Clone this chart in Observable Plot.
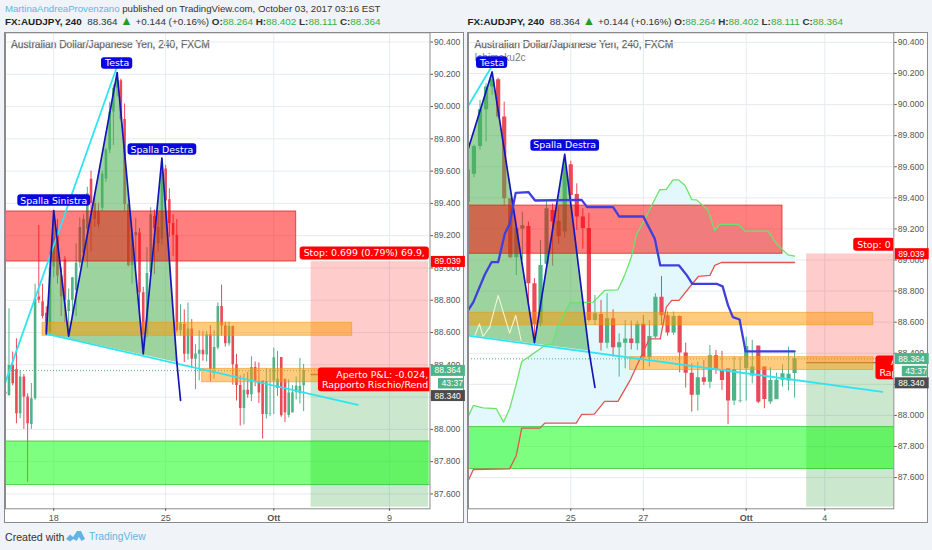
<!DOCTYPE html>
<html><head><meta charset="utf-8">
<script src="https://cdn.jsdelivr.net/npm/d3@7"></script>
<script src="https://cdn.jsdelivr.net/npm/@observablehq/plot@0.6"></script>
<style>
html,body{margin:0;padding:0;background:#f0f3f7;width:932px;height:550px;overflow:hidden;font-family:"Liberation Sans",sans-serif}
.abs{position:absolute;white-space:nowrap}
.panel{position:absolute;background:#fff;border:1.3px solid #8b8b8b;box-sizing:border-box}
.chart{position:absolute;top:0}
.g{color:#2fb344}
.tri{color:#1e9c2c;font-size:12.5px;line-height:10px}
.ttl{font-size:10.2px;color:#666;line-height:16px;-webkit-text-stroke:0.25px #666}
</style></head><body>
<div class="abs" style="left:5px;top:1px;font-size:9.65px;color:#333;line-height:16px"><span style="color:#62b4e6">MartinaAndreaProvenzano</span> published on TradingView.com, October 03, 2017 03:16 EST</div>
<div class="abs head" style="left:5px;top:14px;font-size:9.9px;color:#333;line-height:16px"><b style="color:#222">FX:AUDJPY, 240</b>&nbsp; 88.364 <span class="tri">▲</span> +0.144 (+0.16%) <b>O:</b><span class="g">88.264</span> <b>H:</b><span class="g">88.402</span> <b>L:</b><span class="g">88.111</span> <b>C:</b><span class="g">88.364</span></div>
<div class="abs head" style="left:467.5px;top:14px;font-size:9.9px;color:#333;line-height:16px"><b style="color:#222">FX:AUDJPY, 240</b>&nbsp; 88.364 <span class="tri">▲</span> +0.144 (+0.16%) <b>O:</b><span class="g">88.264</span> <b>H:</b><span class="g">88.402</span> <b>L:</b><span class="g">88.111</span> <b>C:</b><span class="g">88.364</span></div>
<div class="panel" style="left:4px;top:32px;width:460px;height:491px"></div>
<div class="panel" style="left:467px;top:32px;width:461px;height:491px"></div>
<div class="abs ttl" style="left:11px;top:37px">Australian Dollar/Japanese Yen, 240, FXCM</div>
<div class="abs ttl" style="left:474.5px;top:37px">Australian Dollar/Japanese Yen, 240, FXCM</div>
<div class="abs" style="left:474.5px;top:50px;font-size:10.1px;color:#7a7a7a;line-height:16px">Ichimoku2c</div>
<div id="left" class="chart" style="left:0"></div>
<div id="right" class="chart" style="left:466px"></div>
<div class="abs" style="left:5px;top:529px;font-size:10.6px;color:#333;line-height:16px">Created with</div>
<svg class="abs" style="left:66px;top:530px" width="20" height="13" viewBox="0 0 20 13"><path d="M0 9 L4 4.5 L7 7 L11 1 L15 1 L19 9 L15.5 11 L13 7 L10.5 11 L7.5 9 L4 11.5Z" fill="#62b4e6"/></svg>
<div class="abs" style="left:89px;top:529px;font-size:10.3px;color:#62b4e6;line-height:16px">TradingView</div>
<script>
// bars are numbered from the first session of October (tick "Ott" = 0)
const firstBar = -72;
const opens  = [88.23,88.21,88.396,88.371,88.097,88.324,88.2,88.03,88.19,88.82,88.79,88.72,88.6,89.005,89.2,88.95,89.05,88.73,88.8,88.86,89.03,89.09,89.24,89.55,89.4,89.35,89.37,
 89.551,89.731,89.967,90.113,90.16,89.92,89.394,89.014,89.20,89.216,88.847,88.59,88.972,89.319,89.25,89.18,89.613,89.422,89.276,89.203,88.611,88.650,88.465,88.622,88.435,88.465,88.491,88.461,88.586,88.371,88.504,88.761,88.641,88.530,88.637,88.401,88.272,88.129,88.242,88.214,88.384,88.296,88.300,88.092,88.092,88.300,88.253,88.446,88.311,88.086,88.101,88.227,88.221,88.27,88.264];
const highs  = [88.28,88.747,88.479,88.561,88.365,88.34,88.22,88.284,88.90,89.263,88.90,88.76,89.1,89.356,89.3,89.0,89.07,88.87,88.94,89.15,89.31,89.33,89.5,89.6,89.45,89.4,89.6,
 89.74,90.027,90.134,90.21,90.17,90.016,89.394,89.212,89.308,89.244,88.88,89.126,89.373,89.36,89.34,89.68,89.636,89.49,89.33,89.30,88.772,88.740,88.783,88.680,88.525,88.611,88.607,88.607,88.643,88.611,88.783,88.894,88.665,88.665,88.640,88.465,88.332,88.343,88.354,88.450,88.418,88.412,88.247,88.375,88.371,88.504,88.483,88.322,88.219,88.307,88.272,88.326,88.440,88.402];
const lows   = [88.21,88.204,88.27,88.035,88.066,88.0,87.673,88.0,88.18,88.78,88.685,88.58,88.58,88.94,88.9,88.7,88.66,88.58,88.7,88.7,89.0,89.05,89.0,89.1,89.25,89.25,89.35,
 89.53,89.709,89.759,90.06,89.909,89.351,89.008,88.90,89.0,88.70,88.47,88.57,88.95,88.96,89.10,89.14,89.38,89.19,89.07,88.60,88.579,88.414,88.429,88.375,88.246,88.300,88.422,88.418,88.294,88.311,88.493,88.579,88.510,88.515,88.274,88.176,88.021,88.028,88.193,88.172,88.264,88.161,87.940,88.064,88.079,88.092,88.204,88.075,88.043,88.071,88.193,88.182,88.157,88.111];
const closes = [88.22,88.396,88.282,88.097,88.324,88.2,88.035,88.19,88.809,88.80,88.70,88.60,89.0,89.19,88.95,88.82,88.8,88.8,88.94,89.03,89.25,89.3,89.46,89.4,89.3,89.27,89.58,
 89.731,89.967,90.113,90.16,89.92,89.394,89.014,89.201,89.22,88.847,88.585,88.965,89.33,89.244,89.15,89.60,89.415,89.276,89.203,88.611,88.654,88.465,88.622,88.435,88.467,88.491,88.463,88.586,88.371,88.508,88.761,88.641,88.530,88.637,88.401,88.272,88.129,88.242,88.214,88.384,88.296,88.225,88.092,88.296,88.096,88.444,88.311,88.084,88.103,88.225,88.227,88.268,88.265,88.364];

const priceTicks = [87.6,87.8,88,88.2,88.4,88.6,88.8,89,89.2,89.4,89.6,89.8,90,90.2,90.4];

// head and shoulders drawing
const hsBars   = [-61,-59,-55,-42,-35,-30,-26];
const hsPrices = [88.592,89.356,88.578,90.21,88.468,89.68,88.417];
const hsTailBars = [-26,-25];
const hsTailPrices = [88.417,88.18];
const riseBars = [-72,-42];
const risePrices = [88.29,90.25];
const neckBars = [-61,22.5];
const neckPrices = [88.592,88.152];

// zones
const redZone = {bars:[-90,6], prices:[89.04,89.35]};
const greenZone = {bars:[-90,60], prices:[87.655,87.925]};
const orangeTop = {bars:[-62,21], prices:[88.58,88.66]};
const orangeLow = {bars:[-19.2,21], prices:[88.292,88.375]};
const positionBars = [10,41.5];
const entryPrice = 88.34, stopPrice = 89.039, lastPrice = 88.364;

// ichimoku (right panel only)
const spanABars = [-46,-45.1,-43.5,-41.3,-40.1,-39.1,-38,-37.1,-36,-33.3,-32,-31.1,-29.1,-25.3,-23.4,-21.2,-20.1,-19,-18.1,-17,-14.3,-13.2,-12.1,-11.2,-10.1,-9,-8.2,-6.3,-5.2,-4.4,-1.3,-0.2,3.6,5,6.9,8];
const spanAPrices = [87.989,88.064,88.049,88.043,87.957,88.043,88.203,88.347,88.375,88.45,88.461,88.579,88.725,88.729,88.804,88.808,88.901,89.018,89.168,89.244,89.452,89.454,89.516,89.516,89.48,89.389,89.387,89.319,89.19,89.229,89.229,89.186,89.186,89.104,89.033,89.025];
const spanBBars = [-46,-45.1,-39.1,-38,-37.1,-34.1,-33.3,-28.1,-27.2,-25.1,-23.4,-21.2,-19.2,-17.3,-16,-14.2,-13.2,-12.3,-11.1,-8.9,-7.9,-6,-5.2,-4.1,8];
const spanBPrices = [87.575,87.652,87.656,87.742,87.918,87.918,87.95,87.95,88.006,88.008,88.09,88.09,88.225,88.386,88.493,88.493,88.697,88.74,88.74,88.847,88.894,88.901,88.965,88.984,88.984];
const baseBars = [-46,-45.1,-43.2,-42.1,-41,-39.9,-39.1,-38.1,-36,-34.9,-27.2,-26.3,-22,-21,-17,-15.1,-14.2,-11.1,-9.8,-8.9,-4.9,-3.9,-3,-2.2,-1.1,-0.1,8];
const basePrices = [88.675,88.729,88.907,88.986,88.986,89.169,89.233,89.432,89.437,89.383,89.387,89.34,89.34,89.28,89.28,89.136,88.965,88.965,88.901,88.847,88.847,88.83,88.708,88.632,88.617,88.412,88.412];
const lagBars = [-44.9,-44.1,-43.5,-42.4,-41,-39.1,-38.1,-37.2];
const lagPrices = [88.508,88.589,88.508,88.568,88.772,88.529,88.643,88.482];

const pts = (xs, ys) => xs.map((x, i) => ({x, y: ys[i]}));
const candles = opens.map((o, i) => ({i: firstBar + i, o, h: highs[i], l: lows[i], c: closes[i]}));
const UP = "#4fb388", DOWN = "#e94a58";
const candleColor = d => d.c >= d.o ? UP : DOWN;
const box = (z, fill, stroke) => Plot.rect([z], {x1: d => d.bars[0], x2: d => d.bars[1], y1: d => d.prices[0], y2: d => d.prices[1], fill, stroke, strokeWidth: 1, clip: true});

function panel(id, cfg) {
  const line = (xs, ys, o) => Plot.line(pts(xs, ys), {x: "x", y: "y", clip: true, ...o});
  const marks = [
    Plot.gridX(cfg.ticks, {stroke: "#e6eaef", strokeOpacity: 1}),
    Plot.gridY(priceTicks, {stroke: "#e6eaef", strokeOpacity: 1})
  ];
  if (cfg.ichimoku) marks.push(
    Plot.line([...pts(spanABars, spanAPrices), ...pts(spanBBars, spanBPrices).reverse()], {x: "x", y: "y", fill: "#e2f8fd", stroke: "none", clip: true})
  );
  marks.push(
    Plot.ruleY([lastPrice], {stroke: "#4fb388", strokeWidth: 1, strokeDasharray: "1,2", clip: true}),
    Plot.ruleX(candles, {x: "i", y1: "l", y2: "h", stroke: candleColor, strokeWidth: 1, clip: true}),
    Plot.ruleX(candles, {x: "i", y1: "o", y2: "c", stroke: candleColor, strokeWidth: cfg.body, clip: true}),
    // head and shoulders fill sits below the zones
    Plot.line(pts(hsBars, hsPrices), {x: "x", y: "y", fill: "rgba(76,175,80,0.55)", stroke: "none", clip: true}),
    // position tool
    Plot.rect([0], {x1: positionBars[0], x2: positionBars[1], y1: entryPrice, y2: stopPrice, fill: "#ff0000", fillOpacity: 0.2, clip: true}),
    Plot.rect([0], {x1: positionBars[0], x2: positionBars[1], y1: cfg.targetLow, y2: entryPrice, fill: "#2e9e38", fillOpacity: 0.25, clip: true}),
    Plot.ruleY([entryPrice], {x1: positionBars[0], x2: positionBars[1], stroke: "#8a7a50", strokeWidth: 1.3, clip: true}),
    // zones
    box(redZone, "rgba(255,0,0,0.5)", "rgba(225,30,30,0.75)"),
    box(greenZone, "rgba(0,255,0,0.5)", "rgba(40,190,40,0.7)"),
    box(orangeTop, "rgba(255,152,0,0.5)", "rgba(240,150,20,0.6)"),
    box(orangeLow, "rgba(255,152,0,0.5)", "rgba(240,150,20,0.6)")
  );
  if (cfg.ichimoku) marks.push(
    line(spanABars, spanAPrices, {stroke: "#6be36b", strokeWidth: 1.3}),
    line(spanBBars, spanBPrices, {stroke: "#e2564f", strokeWidth: 1.3}),
    line(lagBars, lagPrices, {stroke: "#f5f5d8", strokeWidth: 1.1})
  );
  marks.push(
    line(riseBars, risePrices, {stroke: "#2fe4f2", strokeWidth: 1.8}),
    line(neckBars, neckPrices, {stroke: "#2fe4f2", strokeWidth: 1.8}),
    line(hsBars, hsPrices, {stroke: "#1616b8", strokeWidth: 1.7}),
    line(hsTailBars, hsTailPrices, {stroke: "#1616b8", strokeWidth: 1.7})
  );
  if (cfg.ichimoku) marks.push(line(baseBars, basePrices, {stroke: "#3f3fe0", strokeWidth: 2.3}));
  const small = {fontFamily: "DejaVu Sans", fontSize: 9.4, fill: "white", clip: true, lineAnchor: "middle"};
  marks.push(
    Plot.text(cfg.shapes, {x: "x", y: "y", text: "t", className: "pill-blue", ...small}),
    Plot.text([cfg.stopLabel], {x: "x", y: "y", text: "t", textAnchor: "start", className: "pill-red", ...small}),
    Plot.text([cfg.openLabel], {x: "x", y: "y", text: "t", textAnchor: "end", className: "pill-red", lineHeight: 1.15, ...small}),
    Plot.frame({stroke: "#8b8b8b", strokeWidth: 1}),
    Plot.axisY({anchor: "right", ticks: priceTicks, tickFormat: d => d.toFixed(3), tickSize: 2.5, tickPadding: 1.5, label: null, fontSize: 8.6, fontFamily: "Liberation Sans", color: "#555"}),
    Plot.axisX({ticks: cfg.ticks.filter(t => t !== 0), tickFormat: d => cfg.names[cfg.ticks.indexOf(d)], tickSize: 2.5, tickPadding: 3, label: null, fontSize: 9, fontFamily: "Liberation Sans", color: "#555"}),
    Plot.axisX({ticks: [0], tickFormat: () => "Ott", tickSize: 2.5, tickPadding: 3, label: null, fontSize: 9, fontWeight: "bold", fontFamily: "Liberation Sans", color: "#555"})
  );
  const axisTags = (cls, rows, dx) => Plot.text(rows, {y: "y", text: "t", frameAnchor: "right", textAnchor: "start", dx, className: cls, fontFamily: "Liberation Sans", fontSize: 8.6, fill: "white", lineAnchor: "middle"});
  marks.push(
    axisTags("tag-red", [{y: 89.039, t: "89.039"}], 4.5),
    axisTags("tag-green", [{y: lastPrice, t: "88.364"}], 4.5),
    axisTags("tag-time", [{y: 88.284, t: "43:37"}], 11.5),
    axisTags("tag-grey", [{y: 88.208, t: "88.340"}], 4.5)
  );
  const plot = Plot.plot({
    width: 466, height: 550,
    marginTop: 32.3, marginBottom: 41.7, marginLeft: cfg.ml, marginRight: cfg.mr,
    style: {background: "transparent", overflow: "visible"},
    x: {type: "linear", domain: cfg.xDomain},
    y: {type: "linear", domain: cfg.yDomain},
    marks
  });
  document.getElementById(id).appendChild(plot);
  const pill = (sel, fill, px, py, r, w) => plot.querySelectorAll(sel + " text").forEach(t => {
    const b = t.getBBox();
    const rect = document.createElementNS("http://www.w3.org/2000/svg", "rect");
    rect.setAttribute("x", b.x - px);
    rect.setAttribute("y", b.y - py);
    rect.setAttribute("width", w || b.width + 2 * px);
    rect.setAttribute("height", b.height + 2 * py);
    rect.setAttribute("rx", r);
    rect.setAttribute("fill", fill);
    if (t.getAttribute("transform")) rect.setAttribute("transform", t.getAttribute("transform"));
    t.parentNode.insertBefore(rect, t);
  });
  pill(".pill-blue", "#0808dd", 3, 0.3, 3);
  pill(".pill-red", "#ff0000", 4, 1, 3);
  pill(".tag-red", "#ff0000", 3.6, 0.5, 0, 34);
  pill(".tag-green", "#4fb388", 3.6, 0.5, 0, 34);
  pill(".tag-time", "#4fb388", 3.5, 0.2, 0, 25);
  pill(".tag-grey", "#4c4c4c", 3.6, 0.5, 0, 34);
}

const sL = 3.73, sR = 6.05;
panel("left", {
  ml: 5, mr: 36.5, body: 2.6,
  xDomain: [(5 - 273.3) / sL, (429.5 - 273.3) / sL],
  yDomain: [87.508, 90.457],
  ticks: [-59, -29, 0, 31], names: ["18", "25", "Ott", "9"],
  targetLow: 87.518,
  shapes: [{x: -42, y: 90.267, t: "Testa"}, {x: -30, y: 89.734, t: "Spalla Destra"}, {x: -59, y: 89.418, t: "Spalla Sinistra"}],
  stopLabel: {x: 8, y: 89.09, t: "Stop: 0.699 (0.79%) 69.9,"},
  openLabel: {x: 41.4, y: 88.309, t: "Aperto P&L: -0.024,\nRapporto Rischio/Rend"}
});
panel("right", {
  ml: 2, mr: 38.7, body: 4.2, ichimoku: true,
  xDomain: [(468 - 745.7) / sR, (893.3 - 745.7) / sR],
  yDomain: [87.399, 90.462],
  ticks: [-29, -17, 0, 13], names: ["25", "27", "Ott", "4"],
  targetLow: 87.41,
  shapes: [{x: -42, y: 90.27, t: "Testa"}, {x: -30, y: 89.737, t: "Spalla Destra"}],
  stopLabel: {x: 18.35, y: 89.098, t: "Stop: 0"},
  openLabel: {x: 25, y: 88.309, t: "A\nRap"}
});
</script>
</body></html>
